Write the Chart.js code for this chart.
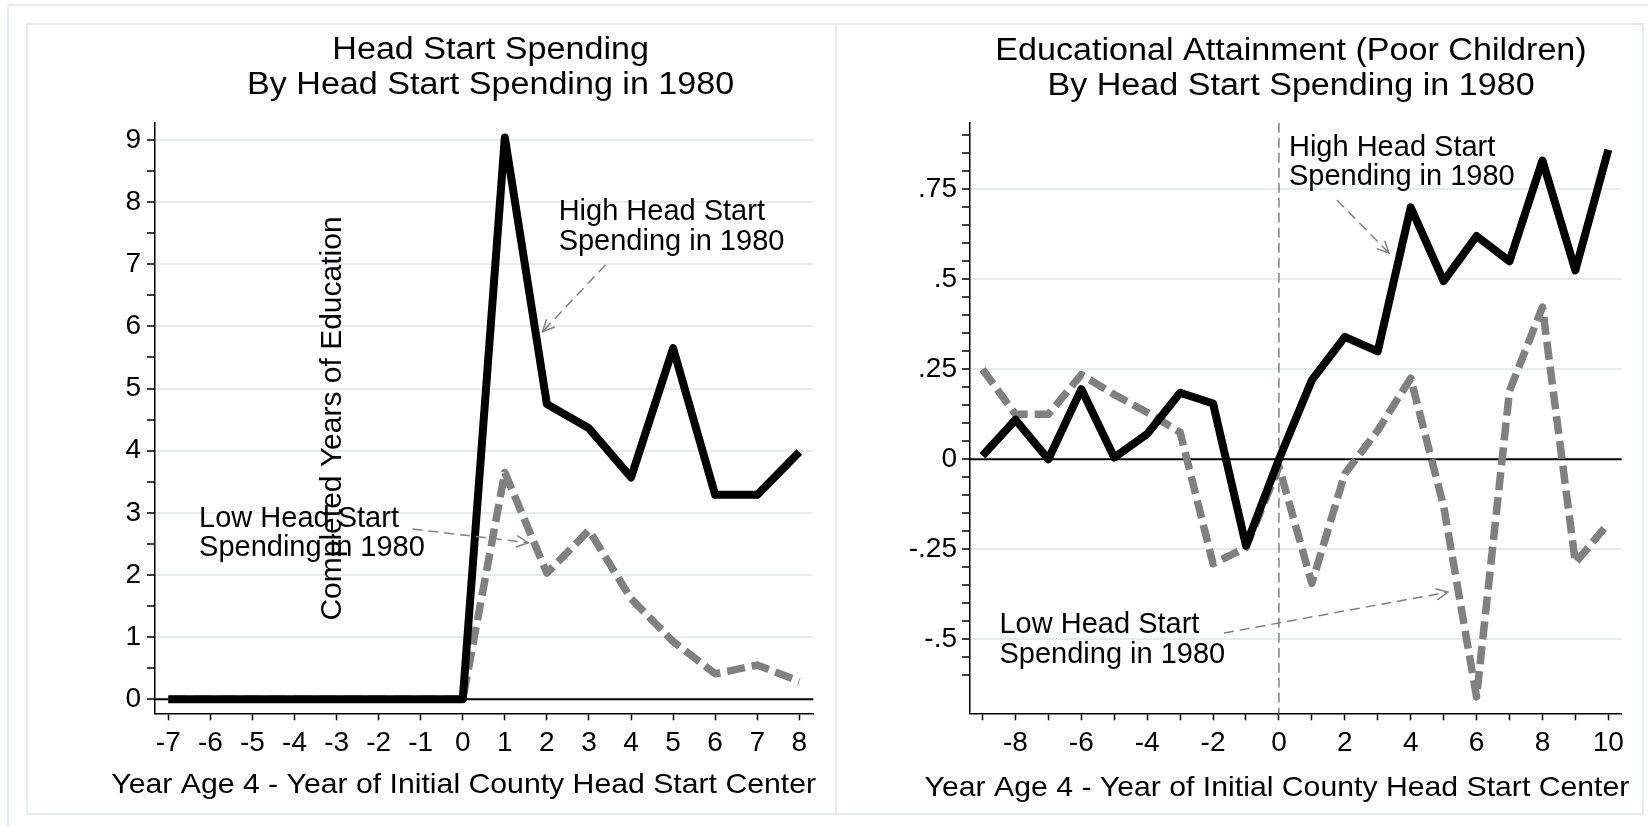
<!DOCTYPE html>
<html>
<head>
<meta charset="utf-8">
<script src="https://cdn.jsdelivr.net/npm/chart.js@4.4.1/dist/chart.umd.min.js"></script>
<style>
  html, body { margin: 0; padding: 0; background: #fff; overflow: hidden; }
  #page { position: relative; width: 1648px; height: 826px; overflow: hidden; }
  .box { position: absolute; border: 2px solid #e6edf0; box-sizing: border-box; }
  canvas { position: absolute; top: 0; }
</style>
</head>
<body>
<div id="page">
  <div class="box" style="left:7px;top:4px;width:1700px;height:900px"></div>
  <div class="box" style="left:26px;top:23px;width:811px;height:792px"></div>
  <div class="box" style="left:835px;top:23px;width:809px;height:792px"></div>
  <canvas id="left" width="835" height="826" style="left:0"></canvas>
  <canvas id="right" width="813" height="826" style="left:835px"></canvas>
</div>
<script>
// left panel: Head Start spending
const leftYears = [-7, -6, -5, -4, -3, -2, -1, 0, 1, 2, 3, 4, 5, 6, 7, 8];
const leftHigh = [0, 0, 0, 0, 0, 0, 0, 0, 9.04, 4.75, 4.36, 3.57, 5.65, 3.29, 3.29, 3.98];
const leftLow = [0, 0, 0, 0, 0, 0, 0, 0, 3.65, 2.03, 2.72, 1.62, 0.93, 0.41, 0.55, 0.29];
const leftXTicks = [-7, -6, -5, -4, -3, -2, -1, 0, 1, 2, 3, 4, 5, 6, 7, 8];
const leftYTicks = [0, 1, 2, 3, 4, 5, 6, 7, 8, 9];
const leftYLabels = ["0", "1", "2", "3", "4", "5", "6", "7", "8", "9"];
const leftYMinor = [0.5, 1.5, 2.5, 3.5, 4.5, 5.5, 6.5, 7.5, 8.5];

// right panel: educational attainment
const rightYears = [-9, -8, -7, -6, -5, -4, -3, -2, -1, 0, 1, 2, 3, 4, 5, 6, 7, 8, 9, 10];
const rightHigh = [0.01, 0.11, 0.0, 0.195, 0.005, 0.07, 0.185, 0.155, -0.24, 0.0,
                   0.22, 0.34, 0.30, 0.70, 0.495, 0.62, 0.55, 0.83, 0.525, 0.86];
const rightLow = [0.25, 0.125, 0.125, 0.235, 0.18, 0.13, 0.075, -0.29, -0.245, -0.02,
                  -0.345, -0.04, 0.08, 0.225, -0.13, -0.66, 0.19, 0.423, -0.288, -0.178];
const rightXTicks = [-9, -8, -7, -6, -5, -4, -3, -2, -1, 0, 1, 2, 3, 4, 5, 6, 7, 8, 9, 10];
const rightXLabels = [-8, -6, -4, -2, 0, 2, 4, 6, 8, 10];
const rightYTicks = [-0.5, -0.25, 0, 0.25, 0.5, 0.75];
const rightYLabels = ["-.5", "-.25", "0", ".25", ".5", ".75"];
const rightYMinor = [-0.6, -0.55, -0.45, -0.4, -0.35, -0.3, -0.2, -0.15, -0.1, -0.05,
                     0.05, 0.1, 0.15, 0.2, 0.3, 0.35, 0.4, 0.45, 0.55, 0.6, 0.65, 0.7, 0.8, 0.85, 0.9];

const FONT = "'Liberation Sans', Arial, Helvetica, sans-serif";
const GRID = "#e4ecef";
const GRAY = "#808080";
const NONE = "rgba(0,0,0,0)";

Chart.defaults.font.family = FONT;
Chart.defaults.color = "#000";

const near = (a, b) => Math.abs(a - b) < 1e-9;

function drawText(ctx, txt, x, y, size, align, stretch, baseline) {
  ctx.save();
  ctx.translate(x, y);
  ctx.scale(stretch || 1, 1);
  ctx.font = size + "px " + FONT;
  ctx.fillStyle = "#000";
  ctx.textAlign = align || "center";
  ctx.textBaseline = baseline || "alphabetic";
  ctx.fillText(txt, 0, 0);
  ctx.restore();
}

function drawArrow(ctx, x1, y1, x2, y2) {
  ctx.save();
  ctx.strokeStyle = GRAY;
  ctx.lineWidth = 1.5;
  ctx.setLineDash([10, 6]);
  ctx.beginPath();
  ctx.moveTo(x1, y1);
  ctx.lineTo(x2, y2);
  ctx.stroke();
  ctx.setLineDash([]);
  const a = Math.atan2(y2 - y1, x2 - x1);
  const len = 13, spread = 0.45;
  ctx.beginPath();
  ctx.moveTo(x2 - len * Math.cos(a - spread), y2 - len * Math.sin(a - spread));
  ctx.lineTo(x2, y2);
  ctx.lineTo(x2 - len * Math.cos(a + spread), y2 - len * Math.sin(a + spread));
  ctx.stroke();
  ctx.restore();
}

const decor = {
  id: "decor",
  beforeDatasetsDraw(chart, args, opts) {
    const { ctx, chartArea: area, scales: { x, y } } = chart;
    ctx.save();
    const y0 = y.getPixelForValue(0);
    ctx.strokeStyle = "#000";
    ctx.lineWidth = 2;
    ctx.beginPath();
    ctx.moveTo(area.left, y0);
    ctx.lineTo(area.right, y0);
    ctx.stroke();
    if (opts.xline !== undefined) {
      const x0 = x.getPixelForValue(opts.xline);
      ctx.strokeStyle = GRAY;
      ctx.lineWidth = 1.5;
      ctx.setLineDash([10, 5]);
      ctx.beginPath();
      ctx.moveTo(x0, area.top);
      ctx.lineTo(x0, area.bottom);
      ctx.stroke();
    }
    ctx.restore();
  },
  afterDraw(chart, args, opts) {
    const { ctx, scales: { x, y } } = chart;
    opts.title.lines.forEach((t, i) => {
      drawText(ctx, t, opts.title.x, opts.title.y[i], 31, "center", 1.1);
    });
    drawText(ctx, opts.xtitle.text, opts.xtitle.x, opts.xtitle.y, 28.5, "center", 1.06, "middle");
    if (opts.ytitle) {
      ctx.save();
      ctx.translate(opts.ytitle.x, opts.ytitle.y);
      ctx.rotate(-Math.PI / 2);
      drawText(ctx, opts.ytitle.text, 0, 0, 30, "center", 1, "middle");
      ctx.restore();
    }
    opts.notes.forEach(n => {
      n.lines.forEach((t, i) => {
        drawText(ctx, t, x.getPixelForValue(n.x), y.getPixelForValue(n.y[i]), 29, "left", 1, "middle");
      });
      drawArrow(ctx,
        x.getPixelForValue(n.from[0]), y.getPixelForValue(n.from[1]),
        x.getPixelForValue(n.to[0]), y.getPixelForValue(n.to[1]));
    });
  }
};

function makeChart(id, p) {
  const major = p.yTicks;
  const isMajor = v => major.some(m => near(m, v));
  return new Chart(document.getElementById(id), {
    type: "line",
    data: {
      datasets: [
        {
          label: "High Head Start Spending in 1980",
          data: p.years.map((yr, i) => ({ x: yr, y: p.high[i] })),
          borderColor: "#000",
          borderWidth: 8,
          borderJoinStyle: "round",
          pointRadius: 0,
          tension: 0
        },
        {
          label: "Low Head Start Spending in 1980",
          data: p.years.map((yr, i) => ({ x: yr, y: p.low[i] })),
          borderColor: GRAY,
          borderWidth: 7.5,
          borderDash: [18, 7],
          borderJoinStyle: "round",
          pointRadius: 0,
          tension: 0
        }
      ]
    },
    options: {
      responsive: false,
      animation: false,
      devicePixelRatio: 1,
      layout: { padding: { left: 0, top: 122.7, right: p.padRight, bottom: 0 } },
      plugins: {
        legend: { display: false },
        tooltip: { enabled: false },
        decor: p.decor
      },
      scales: {
        x: {
          type: "linear",
          min: p.xMin,
          max: p.xMax,
          afterFit: s => { s.height = 112.7; },
          afterBuildTicks: s => { s.ticks = p.xTicks.map(v => ({ value: v })); },
          ticks: {
            autoSkip: false,
            maxRotation: 0,
            padding: 6.4,
            font: { size: 28 },
            callback: v => (p.xLabels.some(l => near(l, v)) ? String(v) : "")
          },
          grid: { drawOnChartArea: false, color: NONE, tickColor: "#000", tickLength: 7, tickWidth: 1.5 },
          border: { display: true, color: "#000", width: 1.5 }
        },
        y: {
          type: "linear",
          min: p.yMin,
          max: p.yMax,
          afterFit: s => { s.width = p.yWidth; },
          afterBuildTicks: s => {
            s.ticks = [...major, ...p.yMinor].sort((a, b) => a - b).map(v => ({ value: v }));
          },
          ticks: {
            autoSkip: false,
            padding: p.yPad,
            font: { size: 28 },
            callback: v => {
              const i = major.findIndex(m => near(m, v));
              return i >= 0 ? p.yLabels[i] : "";
            }
          },
          grid: {
            color: c => (c.tick && isMajor(c.tick.value) && !near(c.tick.value, 0) ? GRID : NONE),
            lineWidth: 2,
            tickColor: "#000",
            tickLength: 8,
            tickWidth: 1.5
          },
          border: { display: true, color: "#000", width: 1.5 }
        }
      }
    },
    plugins: [decor]
  });
}

makeChart("left", {
  years: leftYears, high: leftHigh, low: leftLow,
  xMin: -7.3167, xMax: 8.3333, xTicks: leftXTicks, xLabels: leftXTicks,
  yMin: -0.2253, yMax: 9.278, yTicks: leftYTicks, yLabels: leftYLabels, yMinor: leftYMinor,
  yWidth: 155, yPad: 6, padRight: 21.7,
  decor: {
    title: { lines: ["Head Start Spending", "By Head Start Spending in 1980"], x: 490.6, y: [58.5, 93.5] },
    xtitle: { text: "Year Age 4 - Year of Initial County Head Start Center", x: 463.7, y: 785 },
    ytitle: { text: "Completed Years of Education", x: 332.5, y: 418.5 },
    notes: [
      { lines: ["High Head Start", "Spending in 1980"], x: 2.279, y: [7.847, 7.364], from: [3.393, 6.99], to: [1.898, 5.916] },
      { lines: ["Low Head Start", "Spending in 1980"], x: -6.269, y: [2.9, 2.435], from: [-1.198, 2.74], to: [1.555, 2.52] }
    ]
  }
});

makeChart("right", {
  years: rightYears, high: rightHigh, low: rightLow,
  xMin: -9.3795, xMax: 10.4068, xTicks: rightXTicks, xLabels: rightXLabels,
  yMin: -0.7056, yMax: 0.935, yTicks: rightYTicks, yLabels: rightYLabels, yMinor: rightYMinor,
  yWidth: 135, yPad: 5, padRight: 26.3,
  decor: {
    xline: 0,
    title: { lines: ["Educational Attainment (Poor Children)", "By Head Start Spending in 1980"], x: 456, y: [60, 95] },
    xtitle: { text: "Year Age 4 - Year of Initial County Head Start Center", x: 442, y: 788 },
    notes: [
      { lines: ["High Head Start", "Spending in 1980"], x: 0.305, y: [0.865, 0.783], from: [1.762, 0.72], to: [3.34, 0.573] },
      { lines: ["Low Head Start", "Spending in 1980"], x: -8.484, y: [-0.46, -0.544], from: [-1.668, -0.4825], to: [5.13, -0.369] }
    ]
  }
});
</script>
</body>
</html>
